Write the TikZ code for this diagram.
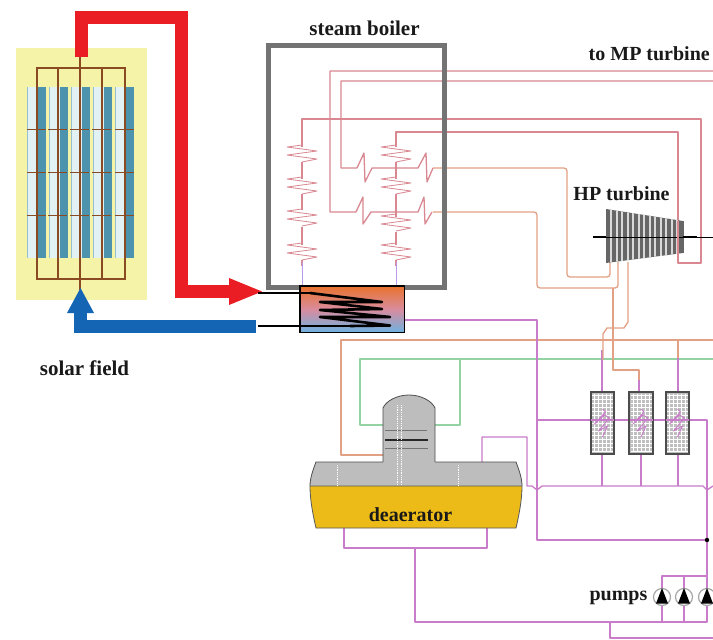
\documentclass[tikz,border=0pt]{standalone}
\usepackage{fontspec}
\setmainfont{Liberation Serif}
\usetikzlibrary{arrows.meta,calc}
\definecolor{solarbg}{HTML}{F4F3A8}
\definecolor{brownpipe}{HTML}{8A4A22}
\definecolor{teal}{HTML}{4E93AE}
\definecolor{trough}{HTML}{E2F1F3}
\definecolor{hotred}{HTML}{EA1C24}
\definecolor{coldblue}{HTML}{1565B5}
\definecolor{steam}{HTML}{D98791}
\definecolor{warm}{HTML}{E2A184}
\definecolor{feed}{HTML}{C97CC9}
\definecolor{condgreen}{HTML}{93D3A3}
\definecolor{deagray}{HTML}{BDBDBD}
\definecolor{deayellow}{HTML}{EDBB18}
\definecolor{hxtop}{HTML}{E9722C}
\definecolor{hxmid}{HTML}{D98C9E}
\definecolor{hxbot}{HTML}{6DB2E2}
\tikzset{
  lbl/.style={font=\fontsize{20}{22}\selectfont\bfseries,inner sep=0pt,text=black!90},
  lblbig/.style={font=\fontsize{21}{23}\selectfont\bfseries,inner sep=0pt,text=black!90},
  steampipe/.style={draw=steam,line width=1.3pt,line join=round},
  warmpipe/.style={draw=warm,line width=1.3pt,line join=round},
  feedpipe/.style={draw=feed,line width=1.3pt,line join=round},
  greenpipe/.style={draw=condgreen,line width=1.6pt,line join=round},
  coil/.style={draw=steam,line width=0.8pt,line join=round},
  heater/.style={draw=black!70,line width=1.2pt,fill=black!25,minimum width=23pt,minimum height=62pt,inner sep=0pt},
  pumpc/.style={circle,draw=black!35,line width=1.2pt,fill=white,minimum size=17pt,inner sep=0pt},
  hxcoil/.style={draw=black,line width=2.6pt,line join=round},
}
\newcommand{\zig}[3]{%x y height
  \draw[coil] (#1,#2) -- ++(-15,2) -- ++(30,4) -- ++(-30,4) -- ++(30,4) -- ++(-15,#3);
}
\begin{document}
\begin{tikzpicture}[x=1pt,y=-1pt]
\useasboundingbox[fill=white] (0,0) rectangle (713,640);
% solar field
\fill[solarbg] (16,48) rectangle (147,300);
\foreach \a in {27,49,71,93,115}{
  \fill[trough] (\a,87) rectangle +(19,171);
  \fill[teal] (\a+11,87) rectangle +(8,171);
  \draw[teal!60,line width=0.5pt] (\a,87) -- +(0,171);
}
\foreach \a in {36.5,58,80,102,125}{
  \draw[brownpipe,line width=0.7pt] (\a-10,129) -- +(19,0) (\a-10,172) -- +(19,0) (\a-10,215) -- +(19,0);
  \draw[brownpipe,line width=2pt] (\a,67.5) -- (\a,278.5);
}
\draw[brownpipe,line width=2pt] (36.5,67.5) rectangle (125,278.5);
\draw[brownpipe,line width=1.5pt] (80,57) -- (80,290);
% solar loop
\draw[hotred,line width=13pt,line join=miter] (81,57) -- (81,17) -- (181,17) -- (181,291.5) -- (232,291.5);
\fill[hotred] (229,278) -- (262,291.5) -- (229,305) -- cycle;
\draw[coldblue,line width=13pt] (256,326.5) -- (80.5,326.5) -- (80.5,310);
\fill[coldblue] (67,313) -- (80.5,288) -- (94,313) -- cycle;
% condensate and feed lines
\draw[greenpipe] (713,359) -- (360,359) -- (360,425) -- (460,425) -- (460,359);
\draw[warmpipe] (713,340) -- (341,340) -- (341,455) -- (384,455);
\draw[feedpipe] (404,320) -- (537,320) -- (537,540) -- (707,540);
\draw[feedpipe] (344,528) -- (344,548) -- (487,548) -- (487,528);
\draw[feedpipe] (415,548) -- (415,622) -- (707,622) -- (707,420) -- (537,420);
\draw[feedpipe] (482,462) -- (482,437) -- (527,437) -- (527,486) -- (532,486) -- (537,490) -- (542,486) -- (703,486) -- (707,490) -- (713,486);
\draw[feedpipe] (610,622) -- (610,638) -- (713,638);
\draw[feedpipe] (602,350) -- (602,392) (602,454) -- (602,486);
\draw[feedpipe] (639,370) -- (639,392) (641,454) -- (641,486);
\draw[feedpipe] (678,350) -- (678,392) (678,454) -- (678,486);
\draw[warmpipe] (628,262) -- (628,322) -- (624,328) -- (607,328) -- (603,334) -- (603,360);
\draw[warmpipe] (613,288) -- (613,370) -- (639,370) -- (639,380);
\draw[warmpipe] (678,340) -- (678,358);
% steam lines
\draw[steampipe] (713,71) -- (330,71) -- (330,212) -- (356,212) -- (363,197) -- (363,224) -- (371,212) -- (418,212) -- (424,197) -- (425,224) -- (432,212);
\draw[steampipe] (713,81) -- (341,81) -- (341,168) -- (357,168) -- (364,153) -- (365,182) -- (372,168) -- (418,168) -- (426,153) -- (427,182) -- (433,168);
\draw[warmpipe,rounded corners=3pt] (433,212) -- (537,212) -- (537,288) -- (618,288) -- (618,262);
\draw[warmpipe,rounded corners=3pt] (433,168) -- (567,168) -- (567,277) -- (610,277) -- (610,262);
\draw[steampipe] (302,266) -- (302,119) -- (701,119) -- (701,263) -- (678,263) -- (678,132) -- (396,132) -- (396,266);
\draw[feed!70!blue!60,line width=1pt] (302,262) -- (302,287) (396,262) -- (396,287);
% coils in the boiler
\foreach \c in {302,396}{
  \foreach \s in {145,177,243}{\fill[white] (\c-3,\s+2) rectangle (\c+3,\s+17);\zig{\c}{\s}{3}}
}
\fill[white] (299,210) rectangle (305,227);\zig{302}{209}{3}
\fill[white] (393,217) rectangle (399,232);\zig{396}{214}{3}
% boiler casing
\draw[black!55,line width=5pt] (268.5,45.5) rectangle (444.5,287);
% economiser
\node[draw=none,minimum width=104pt,minimum height=46pt,inner sep=0pt,anchor=north west] (hx) at (300,286) {};
\shade[top color=hxtop,bottom color=hxbot,middle color=hxmid] (hx.north west) rectangle (hx.south east);
\draw[black,line width=1.2pt] (hx.north west) rectangle (hx.south east);
\draw[black,line width=1.6pt] (258,293) -- (310,293);
\draw[black,line width=1.6pt] (258,326) -- (350,326);
\draw[hxcoil] (310,293) -- (382,302) -- (320,302) -- (382,309) -- (320,310) -- (390,317) -- (320,317) -- (390,325.5) -- (350,326);
% deaerator
\fill[deagray] (383,466) -- (383,408) .. controls (386,401) and (397,395) .. (409,395) .. controls (421,395) and (432,401) .. (435,408) -- (435,466) -- cycle;
\draw[black!70,line width=0.8pt] (383,462) -- (383,408) .. controls (386,401) and (397,395) .. (409,395) .. controls (421,395) and (432,401) .. (435,408) -- (435,462);
\fill[deagray] (316,462) -- (516,462) .. controls (519,470) and (522,478) .. (522,486) -- (310,486) .. controls (310,478) and (313,470) .. (316,462) -- cycle;
\draw[black!70,line width=0.8pt] (383,462) -- (316,462) .. controls (313,470) and (310,478) .. (310,486);
\draw[black!70,line width=0.8pt] (435,462) -- (516,462) .. controls (519,470) and (522,478) .. (522,486);
\fill[deayellow] (310,486) -- (522,486) .. controls (522,500) and (519,515) .. (516,528) -- (316,528) .. controls (313,515) and (310,500) .. (310,486) -- cycle;
\draw[black!65,line width=0.8pt] (310,486) -- (522,486) .. controls (522,500) and (519,515) .. (516,528) -- (316,528) .. controls (313,515) and (310,500) .. (310,486) -- cycle;
\draw[black!55,line width=1pt] (385,430) -- (427,430) (385,448) -- (428,448);
\draw[black!85,line width=1.2pt] (385,440) -- (428,440);
\draw[white,line width=0.8pt,densely dotted] (397,405) -- (397,485) (401,405) -- (401,485) (458,465) -- (458,485) (337,465) -- (337,485);
% heaters
\node[heater] (h1) at (602.5,423) {};
\node[heater] (h2) at (641,423) {};
\node[heater] (h3) at (677.5,423) {};
\foreach \h in {h1,h2,h3}{
  \begin{scope}[shift={(\h.center)}]
    \foreach \d in {-8,-4,...,8}{\draw[white,line width=0.5pt] (\d,-29) -- (\d,29);}
    \foreach \d in {-28,-24,...,28}{\draw[white,line width=0.5pt] (-10.5,\d) -- (10.5,\d);}
    \draw[feed,line width=0.9pt,line join=round] (0,-14) -- (3,-11) -- (-8,1) -- (2,-8) -- (7,-5) -- (-4,8) -- (5,3) -- (0,14);
    \draw[feed,line width=1.2pt] (-11.5,-3) -- (11.5,-3);
  \end{scope}
  \draw[black!70,line width=1.2pt] (\h.north west) rectangle (\h.south east);
}
% pumps
\node[pumpc] (p1) at (662,597) {};
\node[pumpc] (p2) at (684,597) {};
\node[pumpc] (p3) at (707,597) {};
\draw[feedpipe] (p1.north) -- (662,576) -- (707,576) (684,576) -- (p2.north);
\draw[feedpipe] (p1.south) -- (662,622) (p2.south) -- (684,622);
\foreach \p in {p1,p2,p3}{
  \fill[black] ($(\p.center)+(-6,6.5)$) -- ($(\p.center)+(0,-9)$) -- ($(\p.center)+(6,6.5)$) -- cycle;
}
\fill[black] (707,540) circle (2.2);
% HP turbine
\begin{scope}
  \clip (606,209) -- (683,221) -- (683,253) -- (606,263) -- cycle;
  \fill[black!60] (600,200) rectangle (690,270);
  \foreach \x in {611,616.5,622,627.5,633,638.5,644,649.5,655,660.5,666,671.5,677}{
    \draw[black!15,line width=2pt] (\x,205) -- (\x,266);
  }
\end{scope}
\draw[black!60,line width=0.7pt] (606,209) -- (606,263) (683,221) -- (683,253);
\draw[black,line width=0.8pt] (593,237) -- (713,237);
\draw[black,line width=2.2pt] (593,237) -- (606,237) (683,237) -- (697,237);
\draw[steampipe] (678,221) -- (678,258);
% labels
\node[lblbig] (tsb) at (364.5,28) {steam boiler};
\node[lbl,anchor=east] (tmp) at (710,54) {to MP turbine};
\node[lbl] (thp) at (621.5,194) {HP turbine};
\node[lblbig] (tsf) at (84.5,368) {solar field};
\node[lbl] (tda) at (410.5,515) {deaerator};
\node[lbl] (tpu) at (618.5,598) {pumps};
\end{tikzpicture}
\end{document}
